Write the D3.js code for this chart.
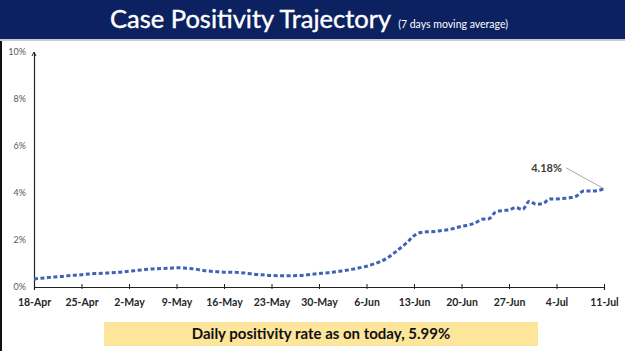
<!DOCTYPE html>
<html>
<head>
<meta charset="utf-8">
<script src="https://cdn.jsdelivr.net/npm/d3@7"></script>
<style>
  body { margin: 0; background: #fff; }
  svg { display: block; }
</style>
</head>
<body>
<svg id="drawing_region"></svg>
<script>
// 7-day moving average of case positivity (%), one value per day from 18-Apr to 11-Jul
const startDate = new Date(2020, 3, 18);
const positivity = [
  0.34, 0.37, 0.40, 0.43, 0.45, 0.48, 0.50, 0.52, 0.55, 0.57, 0.58, 0.60, 0.62, 0.64,
  0.67, 0.70, 0.73, 0.76, 0.78, 0.79, 0.80, 0.82, 0.81, 0.79, 0.75, 0.70, 0.67, 0.65,
  0.63, 0.63, 0.62, 0.60, 0.56, 0.53, 0.51, 0.49, 0.48, 0.48, 0.48, 0.49, 0.51, 0.54,
  0.57, 0.60, 0.63, 0.67, 0.71, 0.76, 0.82, 0.88, 0.97, 1.08, 1.22, 1.43, 1.66, 1.90,
  2.18, 2.32, 2.35, 2.36, 2.40, 2.44, 2.50, 2.58, 2.64, 2.72, 2.88, 2.90, 3.18, 3.25,
  3.28, 3.38, 3.30, 3.65, 3.52, 3.55, 3.75, 3.75, 3.77, 3.80, 3.88, 4.08, 4.08, 4.10,
  4.18
];
const xTickLabels = ["18-Apr", "25-Apr", "2-May", "9-May", "16-May", "23-May", "30-May",
  "6-Jun", "13-Jun", "20-Jun", "27-Jun", "4-Jul", "11-Jul"];
const yTicks = [0, 2, 4, 6, 8, 10];
const titleText = "Case Positivity Trajectory";
const subtitleText = "(7 days moving average)";
const calloutText = "4.18%";
const footerText = "Daily positivity rate as on today, 5.99%";

const data = positivity.map((v, i) => ({ date: d3.timeDay.offset(startDate, i), value: v }));
const tickDates = xTickLabels.map((s, i) => d3.timeDay.offset(startDate, i * 7));

const width = 625, height = 351;
const svg = d3.select('#drawing_region').attr('width', width).attr('height', height);

// title banner
svg.append('rect').attr('x', 0).attr('y', 0).attr('width', width).attr('height', 39)
  .attr('fill', '#0b2160');
svg.append('rect').attr('x', 0).attr('y', 39).attr('width', width).attr('height', 2)
  .attr('fill', '#c9ccd4');
svg.append('rect').attr('x', 0).attr('y', 41).attr('width', 2).attr('height', height - 41)
  .attr('fill', '#111');

const title = svg.append('text')
  .attr('x', 309).attr('y', 28)
  .attr('text-anchor', 'middle')
  .attr('fill', '#fff')
  .attr('font-family', 'Lato, sans-serif');
title.append('tspan').attr('font-size', 25.5).attr('stroke', '#fff').attr('stroke-width', 0.4)
  .text(titleText);
title.append('tspan').attr('font-size', 10.5).attr('dx', 7).text(subtitleText);

const margin = { top: 52, left: 34, right: 21, bottom: 64 };
const x = d3.scaleTime()
  .domain([startDate, tickDates[tickDates.length - 1]])
  .range([margin.left, width - margin.right]);
const y = d3.scaleLinear()
  .domain([0, 10])
  .range([height - margin.bottom, margin.top]);

// y axis
const yAxis = svg.append('g')
  .attr('transform', `translate(${margin.left},0)`)
  .call(d3.axisLeft(y).tickValues(yTicks).tickSize(0).tickPadding(8).tickFormat(d => d + '%'));
yAxis.select('.domain').attr('stroke', '#222').attr('stroke-width', 1.2);
yAxis.selectAll('text')
  .attr('font-family', 'Lato, sans-serif').attr('font-size', 9).attr('fill', '#595959');
yAxis.append('path')
  .attr('d', `M-2,${margin.top + 4}L0,${margin.top}L2,${margin.top + 4}`)
  .attr('fill', 'none').attr('stroke', '#222').attr('stroke-width', 1);

// x axis
const xAxis = svg.append('g')
  .attr('transform', `translate(0,${y(0)})`)
  .call(d3.axisBottom(x).tickValues(tickDates).tickSizeOuter(0).tickSize(3).tickPadding(9)
    .tickFormat((d, i) => xTickLabels[i]));
xAxis.select('.domain').attr('stroke', '#222').attr('stroke-width', 1.2);
xAxis.selectAll('.tick line').attr('y1', -3).attr('y2', 2).attr('stroke', '#222');
xAxis.selectAll('text')
  .attr('font-family', 'Lato, sans-serif').attr('font-size', 10.5)
  .attr('font-weight', 'bold').attr('fill', '#262626');

// line
const line = d3.line().x(d => x(d.date)).y(d => y(d.value)).curve(d3.curveMonotoneX);
svg.append('path')
  .datum(data)
  .attr('d', line)
  .attr('fill', 'none')
  .attr('stroke', '#3f62b5')
  .attr('stroke-width', 3)
  .attr('stroke-dasharray', '4,2.5');

// callout for last value
const last = data[data.length - 1];
svg.append('line')
  .attr('x1', x(last.date) - 38).attr('y1', y(last.value) - 21)
  .attr('x2', x(last.date)).attr('y2', y(last.value))
  .attr('stroke', '#a6a6a6').attr('stroke-width', 1);
svg.append('text')
  .attr('x', x(last.date) - 42).attr('y', y(last.value) - 17)
  .attr('text-anchor', 'end')
  .attr('font-family', 'Lato, sans-serif').attr('font-size', 11)
  .attr('font-weight', 'bold').attr('fill', '#404040')
  .text(calloutText);

// footer box
svg.append('rect').attr('x', 104).attr('y', 322).attr('width', 434).attr('height', 24)
  .attr('fill', '#fde69b');
svg.append('text')
  .attr('x', 321).attr('y', 339)
  .attr('text-anchor', 'middle')
  .attr('font-family', 'Lato, sans-serif').attr('font-size', 15)
  .attr('font-weight', 'bold').attr('fill', '#111')
  .text(footerText);
</script>
</body>
</html>
